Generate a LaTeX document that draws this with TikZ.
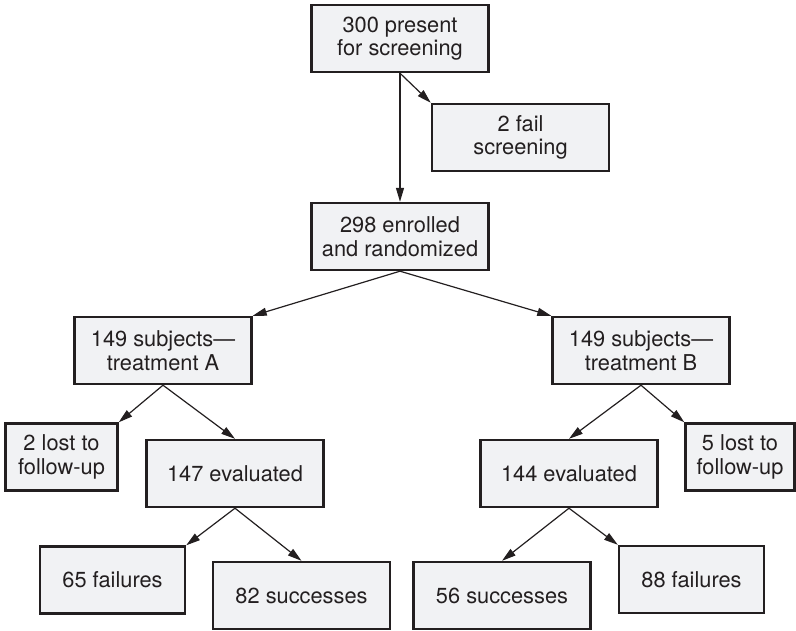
\documentclass[tikz,border=0pt]{standalone}
\usepackage{fontspec}
\setmainfont{TeX Gyre Heros}
\usetikzlibrary{arrows.meta}
\definecolor{boxfill}{RGB}{241,242,244}
\definecolor{ink}{RGB}{35,31,32}
\begin{document}
\begin{tikzpicture}[x=1pt,y=-1pt,
  flowbox/.style={draw=ink, fill=boxfill, line width=2.4pt, rectangle,
    minimum height=67pt, inner sep=0pt, align=center, text=ink,
    font=\fontsize{21.8}{23.5}\selectfont},
  wide/.style={flowbox, minimum width=177pt},
  mid/.style={flowbox, minimum width=145pt},
  narrow/.style={flowbox, minimum width=112pt},
  flow/.style={draw=ink, line width=1.2pt, -{Triangle[length=14pt,width=8pt]}}]
\useasboundingbox (0,0) rectangle (796,630);

% screening and enrolment
\node[wide] (scr)  at (400,38.5)   {300 present\\for screening};
\node[wide] (fail) at (520.5,137.5) {2 fail\\screening};
\node[wide] (enr)  at (400,236.5)  {298 enrolled\\and randomized};

% treatment arms
\node[wide] (armA) at (163,350.5) {149 subjects---\\treatment A};
\node[wide] (armB) at (641,350.5) {149 subjects---\\treatment B};

% follow-up
\node[narrow] (lostA) at (61.5,457) {2 lost to\\follow-up};
\node[wide]   (evA)   at (235,473.5) {147 evaluated};
\node[wide]   (evB)   at (569,473.5) {144 evaluated};
\node[narrow, minimum width=109pt] (lostB) at (740,457) {5 lost to\\follow-up};

% outcomes
\node[mid]  (failA) at (112.5,580)   {65 failures};
\node[wide] (succA) at (301.5,595.5) {82 successes};
\node[wide] (succB) at (502,595.5)   {56 successes};
\node[mid]  (failB) at (691.5,579.5) {88 failures};

% connectors
\draw[flow] (scr.south) -- (enr.north);
\draw[flow] (scr.south) -- (fail.north west);
\draw[flow] (enr.south) -- (armA.north east);
\draw[flow] (enr.south) -- (armB.north west);
\draw[flow] (armA.south) -- (lostA.north east);
\draw[flow] (armA.south) -- (evA.north);
\draw[flow] (armB.south) -- (evB.north);
\draw[flow] (armB.south) -- (lostB.north west);
\draw[flow] (evA.south) -- (failA.north east);
\draw[flow] (evA.south) -- (succA.north);
\draw[flow] (evB.south) -- (succB.north);
\draw[flow] (evB.south) -- (failB.north west);
\end{tikzpicture}
\end{document}
